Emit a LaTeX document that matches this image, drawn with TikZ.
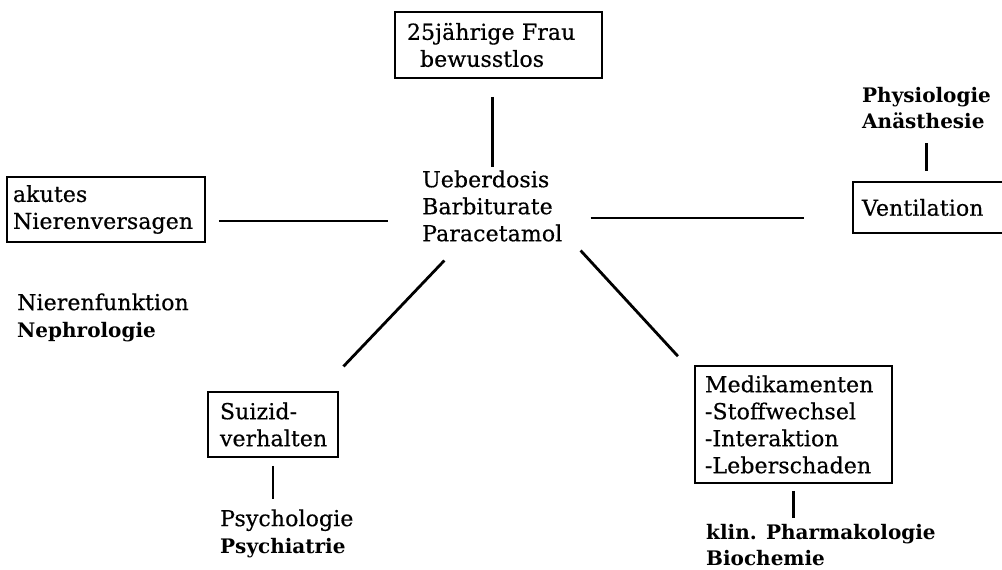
\documentclass[tikz,border=0pt]{standalone}
\usepackage{fontspec}
\setmainfont{DejaVu Serif}[LetterSpace=0.5, FakeBold=0.5]
\newfontfamily\boldfam{DejaVu Serif}[LetterSpace=0]
\usetikzlibrary{calc}
\newcommand\txtf{\fontsize{22}{27}\selectfont}
\newcommand\bldf{\boldfam\bfseries\fontsize{20}{26}\selectfont}
\tikzset{
  box/.style={draw, line width=1.9pt, align=left, inner ysep=0pt, font=\txtf},
  conn/.style={line width=2.8pt},
  lbl/.style={inner sep=0pt, anchor=west, align=left, font=\txtf},
}
\begin{document}
\begin{tikzpicture}[x=1pt,y=-1pt]
\useasboundingbox (0,0) rectangle (1002,570);
% boxes
\node[box, inner xsep=12pt, text width=183pt, minimum height=66pt] (frau) at (498.5,45) {25jährige Frau\\\hspace*{13pt}bewusstlos};
\node[box, inner xsep=6pt, text width=186pt, minimum height=65pt] (niere) at (106,209.5) {akutes\\Nierenversagen};
\node[box, inner xsep=9pt, text width=139pt, minimum height=51pt] (vent) at (931.5,207.5) {Ventilation};
\node[box, inner xsep=12pt, text width=106pt, minimum height=65pt] (suizid) at (273,424.5) {Suizid-\\verhalten};
\node[box, inner xsep=10pt, text width=177pt, minimum height=117pt] (med) at (793.5,424.5) {Medikamenten\\-Stoffwechsel\\-Interaktion\\-Leberschaden};
% text nodes
\node[lbl] (ctr) at (422,206) {Ueberdosis\\Barbiturate\\Paracetamol};
\node[lbl] (nfunk) at (17,317.5) {Nierenfunktion\\{\bldf Nephrologie}};
\node[lbl, font=\bldf] (physio) at (862,108.5) {Physiologie\\Anästhesie};
\node[lbl] (psych) at (220,533.5) {Psychologie\\{\bldf Psychiatrie}};
\node[lbl, font=\bldf] (pharm) at (706,545) {klin. Pharmakologie\\Biochemie};
% connectors
\draw[conn, shorten <=18pt, shorten >=3pt] (frau.south -| ctr.north) -- (ctr.north);
\draw[conn, shorten <=13pt, shorten >=34pt] ([yshift=-11.5pt]niere.east) -- ([yshift=-11.5pt]niere.east -| ctr.west);
\draw[conn, shorten <=28pt, shorten >=48pt] ([yshift=-12pt]ctr.east) -- ([yshift=-12pt]ctr.east -| vent.west);
\draw[conn, shorten <=14pt, shorten >=10pt] (physio.south) -- (physio.south |- vent.north);
\draw[conn, shorten <=26pt, shorten >=34pt] ([xshift=-30pt]ctr.south) -- ([xshift=47pt]suizid.north);
\draw[conn, shorten <=12pt, shorten >=12pt] ([xshift=10pt]ctr.south east) -- ([xshift=-8pt]med.north west);
\draw[conn, shorten <=8pt, shorten >=10pt] (suizid.south) -- (suizid.south |- psych.north);
\draw[conn, shorten <=7pt, shorten >=6pt] (med.south) -- (med.south |- pharm.north);
\end{tikzpicture}
\end{document}
